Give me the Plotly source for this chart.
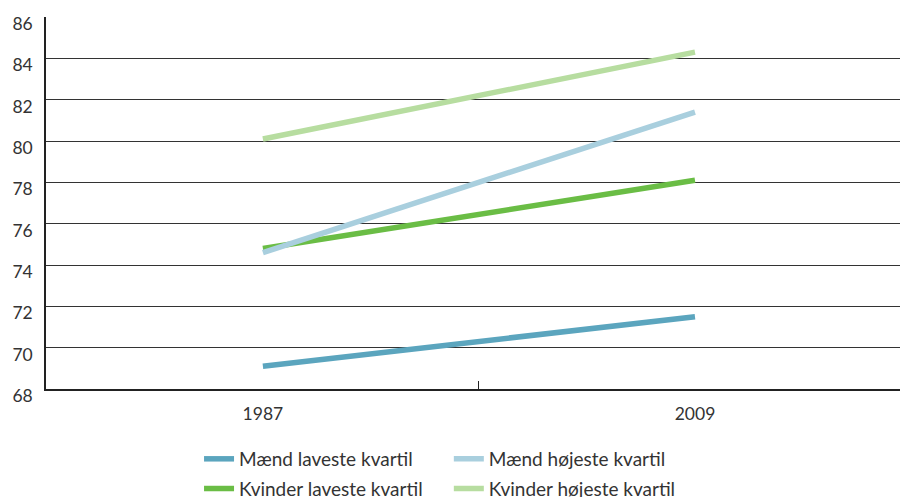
import plotly.graph_objects as go

years = ["1987", "2009"]
maend_laveste = [69.1, 71.5]
maend_hojeste = [74.6, 81.4]
kvinder_laveste = [74.8, 78.1]
kvinder_hojeste = [80.1, 84.3]
y_ticks = [68, 70, 72, 74, 76, 78, 80, 82, 84, 86]

series = [
    ("Mænd laveste kvartil", maend_laveste, "#5BA5BE", "legend"),
    ("Kvinder laveste kvartil", kvinder_laveste, "#6ABD45", "legend"),
    ("Mænd højeste kvartil", maend_hojeste, "#A9CFDE", "legend2"),
    ("Kvinder højeste kvartil", kvinder_hojeste, "#B7DDA0", "legend2"),
]

fig = go.Figure()
for i, (name, vals, color, leg) in enumerate(series):
    fig.add_trace(go.Scatter(
        x=years, y=vals, mode="lines", name=name,
        line=dict(color=color, width=5.5),
        legend=leg, legendgroup=f"g{i}",
    ))

font_family = "Lato, 'Open Sans', sans-serif"
legend_common = dict(
    orientation="v", yanchor="top", xanchor="left",
    font=dict(family=font_family, size=19, color="#333333"),
    bgcolor="rgba(0,0,0,0)", tracegroupgap=2, itemwidth=30,
)

fig.update_layout(
    width=900, height=497,
    margin=dict(l=46, r=0, t=17, b=108, autoexpand=False),
    plot_bgcolor="white", paper_bgcolor="white",
    font=dict(family=font_family, size=17, color="#333333"),
    showlegend=True,
    legend=dict(x=0.1792, y=-0.137, **legend_common),
    legend2=dict(x=0.4717, y=-0.137, **legend_common),
    xaxis=dict(
        type="category", range=[-0.502, 1.4745],
        showgrid=False, showline=True, linecolor="#222222", linewidth=1.5,
        ticks="inside", tickson="boundaries", ticklen=8, tickcolor="#222222",
        tickwidth=1, ticklabelstandoff=8,
        tickfont=dict(family=font_family, size=17.5, color="#333333"),
    ),
    yaxis=dict(
        range=[68, 86], tickvals=y_ticks,
        showgrid=True, gridcolor="#333333", gridwidth=1,
        showline=True, linecolor="#222222", linewidth=1.5,
        zeroline=False, ticks="", ticklabelstandoff=8, ticklabelshift=7,
        tickfont=dict(family=font_family, size=17.5, color="#333333"),
    ),
)

fig.write_html(
    "out.html",
    config={"displayModeBar": False},
    post_script="document.body.style.margin='0';document.body.style.overflow='hidden';",
)
